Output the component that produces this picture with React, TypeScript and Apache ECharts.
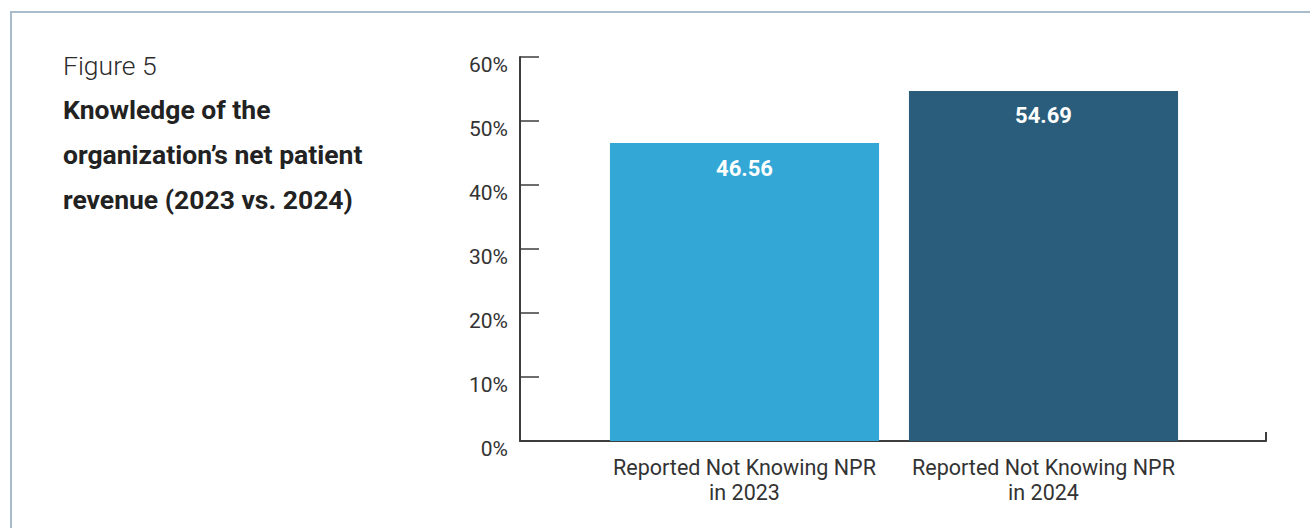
import React, { useEffect, useRef } from "react";
import * as echarts from "echarts";

const categories = ["Reported Not Knowing NPR\nin 2023", "Reported Not Knowing NPR\nin 2024"];
const values = [46.56, 54.69];
const barColors = ["#33a8d6", "#295d7b"];
const yMin = 0;
const yMax = 60;
const yInterval = 10;
const figureLabel = "Figure 5";
const titleLines = ["Knowledge of the", "organization\u2019s net patient", "revenue (2023 vs. 2024)"];

const FONT = "Roboto, 'Noto Sans', sans-serif";
const AXIS_COLOR = "#3d3d3d";
const TEXT_COLOR = "#333333";

export default function App() {
  const ref = useRef<HTMLDivElement>(null);

  useEffect(() => {
    if (!ref.current) return;
    const chart = echarts.init(ref.current, undefined, { renderer: "svg" });

    const option: any = {
      animation: false,
      backgroundColor: "#ffffff",
      textStyle: { fontFamily: FONT },
      graphic: [
        {
          type: "rect",
          shape: { x: 11, y: 12, width: 1400, height: 600 },
          style: { fill: "none", stroke: "#a8bccb", lineWidth: 2 },
          silent: true,
        },
        {
          type: "text",
          x: 63,
          y: 65,
          style: {
            text: figureLabel,
            fontFamily: FONT,
            fontSize: 26.5,
            fontWeight: 300,
            fill: "#2b2b2b",
            verticalAlign: "middle",
            align: "left",
          },
        },
        ...titleLines.map((t, i) => ({
          type: "text",
          x: 63,
          y: 109 + i * 45,
          style: {
            text: t,
            fontFamily: FONT,
            fontSize: 26.5,
            fontWeight: "bold",
            fill: "#222222",
            verticalAlign: "middle",
            align: "left",
          },
        })),
      ],
      grid: [
        { left: 520, right: 44, top: 57, bottom: 87 },
        { left: 595, right: 117, top: 57, bottom: 87 },
      ],
      xAxis: [
        {
          gridIndex: 0,
          type: "value",
          min: 0,
          max: 1,
          interval: 1,
          axisLine: { show: true, lineStyle: { color: AXIS_COLOR, width: 2 } },
          axisTick: { show: true, inside: true, length: 9, lineStyle: { color: AXIS_COLOR, width: 2 } },
          axisLabel: { show: false },
          splitLine: { show: false },
        },
        {
          gridIndex: 1,
          type: "category",
          data: categories,
          axisLine: { show: false },
          axisTick: { show: false },
          axisLabel: {
            show: true,
            interval: 0,
            color: TEXT_COLOR,
            fontFamily: FONT,
            fontSize: 21.5,
            lineHeight: 25,
            margin: 14,
            align: "center",
          },
          splitLine: { show: false },
        },
      ],
      yAxis: [
        {
          gridIndex: 0,
          type: "value",
          min: yMin,
          max: yMax,
          interval: yInterval,
          axisLine: { show: true, lineStyle: { color: AXIS_COLOR, width: 2 } },
          axisTick: { show: true, inside: true, length: 19, lineStyle: { color: AXIS_COLOR, width: 1.5 } },
          axisLabel: {
            show: true,
            formatter: "{value}%",
            color: TEXT_COLOR,
            fontFamily: FONT,
            fontSize: 21,
            margin: 12,
            verticalAlign: "top",
            lineHeight: 15,
          },
          splitLine: { show: false },
        },
        {
          gridIndex: 1,
          type: "value",
          min: yMin,
          max: yMax,
          interval: yInterval,
          show: false,
          splitLine: { show: false },
        },
      ],
      series: [
        {
          type: "bar",
          xAxisIndex: 1,
          yAxisIndex: 1,
          barCategoryGap: "10%",
          data: values.map((v, i) => ({ value: v, itemStyle: { color: barColors[i] } })),
          label: {
            show: true,
            position: "insideTop",
            distance: 14,
            color: "#ffffff",
            fontFamily: FONT,
            fontSize: 22,
            fontWeight: "bold",
            formatter: (p: any) => p.value.toFixed(2),
          },
        },
      ],
    };

    chart.setOption(option);
    return () => {
      chart.dispose();
    };
  }, []);

  return (
    <div
      ref={ref}
      style={{ position: "fixed", left: 0, top: 0, width: 1310, height: 528 }}
    />
  );
}
